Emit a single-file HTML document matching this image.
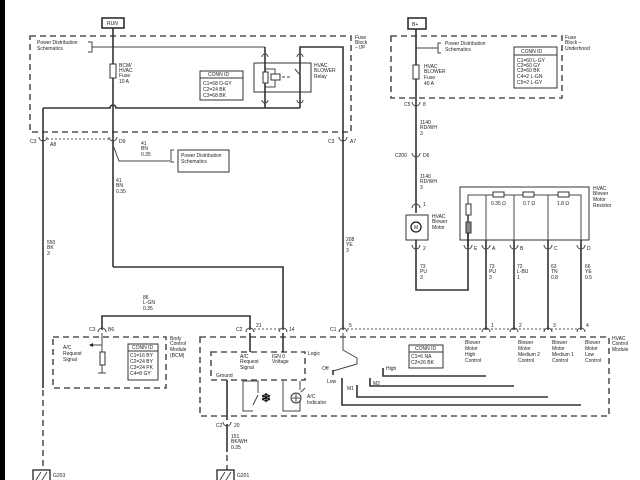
<!DOCTYPE html>
<html><head><meta charset="utf-8"><style>
html,body{margin:0;padding:0;background:#fff;}
svg{display:block;}
text{font-family:"Liberation Sans",sans-serif;font-size:5px;fill:#222;}
.w{stroke:#333;stroke-width:1.6;fill:none;}
.t{stroke:#444;stroke-width:1;fill:none;}
.d{stroke:#555;stroke-width:1.6;fill:none;stroke-dasharray:6,4;}
.dt{stroke:#555;stroke-width:1;fill:none;stroke-dasharray:2,2;}
</style></head><body>
<svg width="640" height="480" viewBox="0 0 640 480" xmlns="http://www.w3.org/2000/svg">
<rect x="0" y="0" width="5" height="480" fill="#000"/>

<rect x="102" y="18" width="22" height="10" fill="#fff" stroke="#222" stroke-width="1.5"/>
<text x="107" y="25">RUN</text>
<rect x="30" y="36" width="321" height="96" class="d"/>
<text x="355" y="39">Fuse</text><text x="355" y="44">Block</text><text x="355" y="49">– I/P</text>
<text x="37" y="44">Power Distribution</text><text x="37" y="50">Schematics</text>
<path class="t" d="M88 42h4v10h-4M92 47h173"/>
<line class="w" x1="113" y1="28" x2="113" y2="267"/>
<rect x="110" y="64" width="6" height="14" fill="#fff" stroke="#333"/>
<text x="119" y="67">BCM/</text><text x="119" y="72">HVAC</text><text x="119" y="77">Fuse</text><text x="119" y="83">10 A</text>
<rect x="200" y="71" width="43" height="29" fill="#fff" stroke="#333"/>
<line x1="200" y1="78" x2="243" y2="78" stroke="#333"/>
<text x="208" y="76">CONN ID</text>
<text x="203" y="85">C1=68 D-GY</text><text x="203" y="91">C2=24 BK</text><text x="203" y="97">C3=68 BK</text>
<rect x="254" y="63" width="57" height="29" fill="#fff" stroke="#333"/>
<path class="w" d="M265 47v61M300 108v-61h43v93"/>
<path class="t" d="M262 57a3 3 0 0 1 6 0M297 57a3 3 0 0 1 6 0M262 100a3 3 0 0 0 6 0M297 100a3 3 0 0 0 6 0"/>
<rect x="263" y="72" width="5" height="11" fill="#fff" stroke="#333"/>
<path class="t" d="M265 69h10v18h-10"/>
<rect x="271" y="74" width="9" height="6" fill="#fff" stroke="#333"/>
<path class="t" d="M282 77h10" stroke-dasharray="3,2"/>
<path class="t" d="M300 70v5l-5 -6M300 82v-4"/>
<text x="314" y="67">HVAC</text><text x="314" y="72">BLOWER</text><text x="314" y="78">Relay</text>
<path class="w" d="M43 108h67a3 3 0 0 1 6 0h184"/>
<line class="dt" x1="47" y1="139" x2="110" y2="139"/>
<path class="t" d="M39 137a4 4 0 0 0 8 0M109 137a4 4 0 0 0 8 0M339 137a4 4 0 0 0 8 0"/>
<text x="30" y="143">C3</text><text x="50" y="146">A8</text><text x="119" y="143">D9</text>
<text x="328" y="143">C3</text><text x="350" y="143">A7</text>
<line class="w" x1="43" y1="108" x2="43" y2="388"/>
<line class="d" x1="43" y1="390" x2="43" y2="470"/>
<path class="t" d="M113 145l6 16h51M174 150h-3v12h3"/>
<text x="141" y="145">41</text><text x="141" y="150">BN</text><text x="141" y="156">0.35</text>
<rect x="178" y="150" width="51" height="22" fill="#fff" stroke="#333"/>
<text x="181" y="157">Power Distribution</text><text x="181" y="163">Schematics</text>
<text x="116" y="182">41</text><text x="116" y="187">BN</text><text x="116" y="193">0.35</text>
<text x="47" y="244">550</text><text x="47" y="249">BK</text><text x="47" y="255">3</text>
<text x="346" y="241">208</text><text x="346" y="246">YE</text><text x="346" y="252">3</text>
<path class="w" d="M113 267h170v63M343 140v190"/>
<path class="w" d="M102 330v-14h148v14"/>
<text x="143" y="299">86</text><text x="143" y="304">L-GN</text><text x="143" y="310">0.35</text>

<rect x="408" y="18" width="18" height="11" fill="#fff" stroke="#222" stroke-width="1.5"/>
<text x="412" y="26">B+</text>
<rect x="391" y="36" width="171" height="62" class="d"/>
<text x="565" y="39">Fuse</text><text x="565" y="44">Block –</text><text x="565" y="50">Underhood</text>
<path class="t" d="M416 48h22M441 43h-3v10h3"/>
<text x="445" y="45">Power Distribution</text><text x="445" y="51">Schematics</text>
<rect x="514" y="47" width="43" height="41" fill="#fff" stroke="#333"/>
<line x1="514" y1="55" x2="557" y2="55" stroke="#333"/>
<text x="521" y="53">CONN ID</text>
<text x="517" y="62">C1=60 L-GY</text><text x="517" y="67">C2=60 GY</text><text x="517" y="72">C3=60 BK</text><text x="517" y="78">C4=2 L-GN</text><text x="517" y="84">C5=2 L-GY</text>
<line class="w" x1="416" y1="29" x2="416" y2="213"/>
<rect x="413" y="65" width="6" height="14" fill="#fff" stroke="#333"/>
<text x="424" y="68">HVAC</text><text x="424" y="73">BLOWER</text><text x="424" y="79">Fuse</text><text x="424" y="85">40 A</text>
<path class="t" d="M412 102a4 4 0 0 0 8 0M412 153a4 4 0 0 0 8 0M412 208a4 4 0 0 1 8 0M412 245a4 4 0 0 0 8 0"/>
<text x="404" y="106">C5</text><text x="423" y="106">8</text>
<text x="420" y="124">1140</text><text x="420" y="129">RD/WH</text><text x="420" y="135">3</text>
<text x="395" y="157">C200</text><text x="423" y="157">D6</text>
<text x="420" y="178">1140</text><text x="420" y="183">RD/WH</text><text x="420" y="189">3</text>
<text x="423" y="206">1</text>
<rect x="406" y="215" width="22" height="25" fill="#fff" stroke="#333"/>
<circle cx="416" cy="227" r="5" fill="#fff" stroke="#222" stroke-width="1.3"/>
<text x="414" y="229">M</text>
<text x="432" y="218">HVAC</text><text x="432" y="223">Blower</text><text x="432" y="229">Motor</text>
<text x="423" y="250">2</text>
<path class="w" d="M416 240v50h52v-80"/>
<text x="420" y="268">73</text><text x="420" y="273">PU</text><text x="420" y="279">3</text>
<rect x="460" y="187" width="129" height="53" fill="none" stroke="#333"/>
<text x="593" y="190">HVAC</text><text x="593" y="195">Blower</text><text x="593" y="201">Motor</text><text x="593" y="207">Resistor</text>
<path class="t" d="M468 205v-10h113v52M486 195v135M514 195v135M548 195v135"/>
<path class="w" d="M468 232v15M486 240v90M514 240v90M548 240v90M581 240v90"/>
<rect x="493" y="192" width="11" height="5" fill="#fff" stroke="#333"/>
<rect x="523" y="192" width="11" height="5" fill="#fff" stroke="#333"/>
<rect x="558" y="192" width="11" height="5" fill="#fff" stroke="#333"/>
<rect x="466" y="204" width="5" height="11" fill="#fff" stroke="#333"/>
<rect x="466" y="222" width="5" height="11" fill="#888" stroke="#333"/>
<line class="t" x1="468" y1="215" x2="468" y2="222"/>
<text x="491" y="205">0.35 Ω</text><text x="523" y="205">0.7 Ω</text><text x="557" y="205">1.8 Ω</text>
<path class="t" d="M464 245a4 4 0 0 0 8 0M482 245a4 4 0 0 0 8 0M510 245a4 4 0 0 0 8 0M544 245a4 4 0 0 0 8 0M577 245a4 4 0 0 0 8 0"/>
<text x="474" y="250">E</text><text x="492" y="250">A</text><text x="520" y="250">B</text><text x="554" y="250">C</text><text x="587" y="250">D</text>
<text x="489" y="268">73</text><text x="489" y="273">PU</text><text x="489" y="279">3</text>
<text x="517" y="268">72</text><text x="517" y="273">L-BU</text><text x="517" y="279">1</text>
<text x="551" y="268">63</text><text x="551" y="273">TN</text><text x="551" y="279">0.8</text>
<text x="585" y="268">66</text><text x="585" y="273">YE</text><text x="585" y="279">0.5</text>

<line class="dt" x1="254" y1="329" x2="280" y2="329"/>
<line class="dt" x1="347" y1="329" x2="578" y2="329"/>
<path class="t" d="M98 332a4 4 0 0 1 8 0M246 332a4 4 0 0 1 8 0M279 332a4 4 0 0 1 8 0M339 332a4 4 0 0 1 8 0M482 332a4 4 0 0 1 8 0M510 332a4 4 0 0 1 8 0M544 332a4 4 0 0 1 8 0M577 332a4 4 0 0 1 8 0"/>
<text x="89" y="331">C3</text><text x="108" y="331">B6</text>
<text x="236" y="331">C2</text><text x="256" y="327">21</text><text x="289" y="331">14</text>
<text x="330" y="331">C1</text><text x="349" y="327">5</text>
<text x="491" y="327">1</text><text x="519" y="327">2</text><text x="553" y="327">3</text><text x="586" y="327">4</text>

<rect x="53" y="337" width="113" height="51" class="d"/>
<text x="170" y="340">Body</text><text x="170" y="345">Control</text><text x="170" y="351">Module</text><text x="170" y="357">(BCM)</text>
<text x="63" y="349">A/C</text><text x="63" y="355">Request</text><text x="63" y="361">Signal</text>
<path class="t" d="M102 333v19M102 345h-10M102 365v8M98 373h8"/>
<path d="M89 345l4 -2v4z" fill="#222"/>
<rect x="100" y="352" width="5" height="13" fill="#fff" stroke="#333"/>
<rect x="128" y="344" width="30" height="36" fill="#fff" stroke="#333"/>
<line x1="128" y1="351" x2="158" y2="351" stroke="#333"/>
<text x="132" y="349">CONN ID</text>
<text x="130" y="357">C1=16 BY</text><text x="130" y="363">C2=24 BY</text><text x="130" y="369">C3=24 PK</text><text x="130" y="375">C4=8 GY</text>

<rect x="200" y="337" width="409" height="79" class="d"/>
<text x="612" y="340">HVAC</text><text x="612" y="345">Control</text><text x="612" y="351">Module</text>
<rect x="211" y="352" width="94" height="28" class="d" stroke-width="1.2"/>
<text x="308" y="355">Logic</text>
<text x="240" y="358">A/C</text><text x="240" y="363">Request</text><text x="240" y="369">Signal</text>
<text x="272" y="358">IGN 0</text><text x="272" y="363">Voltage</text>
<text x="216" y="377">Ground</text>
<path class="w" d="M250 333v19M283 333v19"/>
<path class="t" d="M243 381v30h10M253 405l5 -10M258 393v-12h-15M283 381v30h17v-10M300 390v-9"/>
<text x="261" y="402" style="font-size:12px;font-weight:bold;fill:#111">❄</text>
<circle cx="296" cy="398" r="5" fill="#fff" stroke="#333"/>
<path class="t" d="M292 398h8M296 394v8M301 392l4 -4"/>
<text x="307" y="398">A/C</text><text x="307" y="404">Indicator</text>
<path class="w" d="M227 380v40"/>
<path class="t" d="M223 422a4 4 0 0 0 8 0"/>
<text x="216" y="427">C2</text><text x="234" y="427">20</text>
<text x="231" y="438">151</text><text x="231" y="443">BK/WH</text><text x="231" y="449">0.35</text>
<line class="w" x1="227" y1="424" x2="227" y2="452"/>
<line class="d" x1="227" y1="455" x2="227" y2="470"/>
<path class="t" d="M343 333v17l14 8v6l-24 7"/>
<path class="w" d="M333 370v5"/>
<text x="322" y="370">Off</text>
<path class="w" d="M342 378v27h239M357 385v12h191M370 378v8h144M383 368v8h103"/>
<text x="327" y="383">Low</text><text x="347" y="390">M1</text><text x="373" y="385">M2</text><text x="386" y="370">High</text>
<rect x="409" y="345" width="34" height="23" fill="#fff" stroke="#333"/>
<line x1="409" y1="352" x2="443" y2="352" stroke="#333"/>
<text x="415" y="350">CONN ID</text>
<text x="411" y="358">C1=6 NA</text><text x="411" y="364">C2=26 BK</text>
<text x="465" y="344">Blower</text><text x="465" y="350">Motor</text><text x="465" y="356">High</text><text x="465" y="362">Control</text>
<text x="518" y="344">Blower</text><text x="518" y="350">Motor</text><text x="518" y="356">Medium 2</text><text x="518" y="362">Control</text>
<text x="552" y="344">Blower</text><text x="552" y="350">Motor</text><text x="552" y="356">Medium 1</text><text x="552" y="362">Control</text>
<text x="585" y="344">Blower</text><text x="585" y="350">Motor</text><text x="585" y="356">Low</text><text x="585" y="362">Control</text>

<rect x="33" y="470" width="17" height="12" fill="#fff" stroke="#222" stroke-width="1.3"/>
<path class="t" d="M36 480l5 -8M42 480l5 -8"/>
<text x="53" y="477">G203</text>
<rect x="217" y="470" width="17" height="12" fill="#fff" stroke="#222" stroke-width="1.3"/>
<path class="t" d="M220 480l5 -8M226 480l5 -8"/>
<text x="237" y="477">G201</text>
</svg>
</body></html>
